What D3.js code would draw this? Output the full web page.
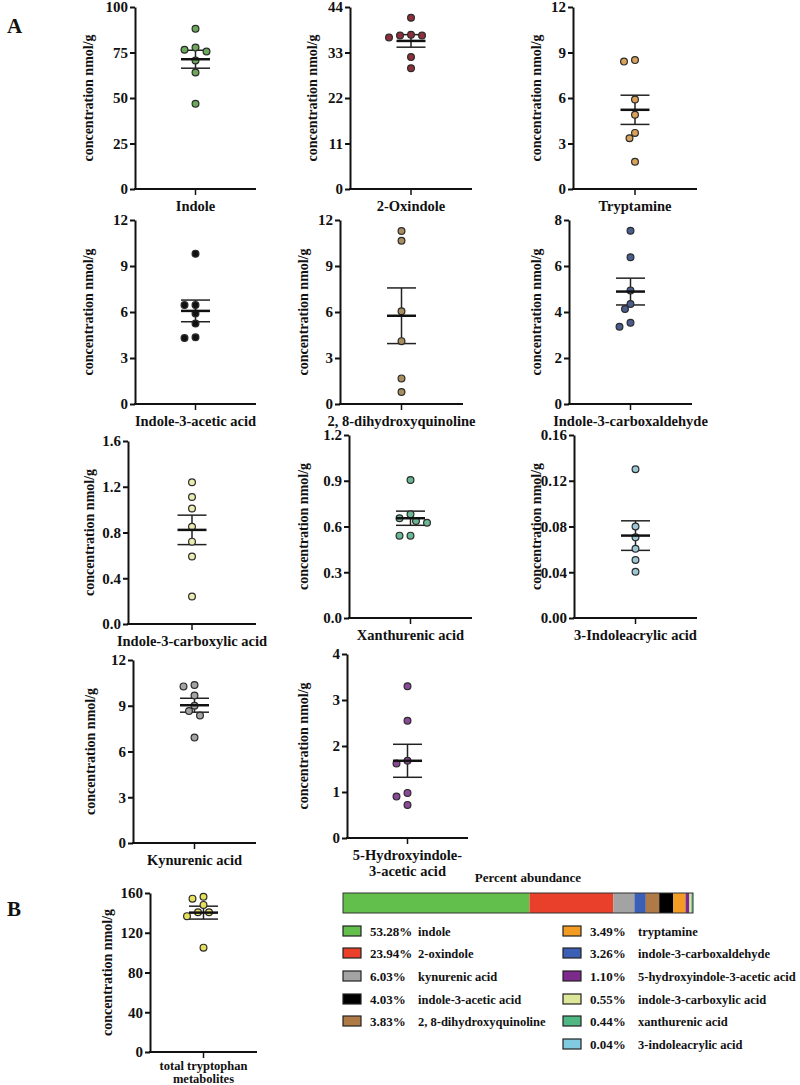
<!DOCTYPE html>
<html><head><meta charset="utf-8">
<script src="https://cdn.jsdelivr.net/npm/d3@7/dist/d3.min.js"></script>
<style>
html,body{margin:0;padding:0;background:#fff;}
svg{display:block;font-family:"Liberation Serif","Times New Roman",serif;font-weight:bold;}
</style></head><body>
<svg id="chart" width="800" height="1085"></svg>
<script>
// ---------- DATA ----------
const categories = ["Indole","2-Oxindole","Tryptamine","Indole-3-acetic acid","2, 8-dihydroxyquinoline","Indole-3-carboxaldehyde","Indole-3-carboxylic acid","Xanthurenic acid","3-Indoleacrylic acid","Kynurenic acid","5-Hydroxyindole-|3-acetic acid"];
const indole = [88, 77.7, 76.5, 75.5, 70.6, 64, 46.8];
const oxindole = [41.4, 37.1, 37.3, 36.6, 37.1, 31.9, 29.2];
const tryptamine = [8.5, 8.4, 5.9, 4.9, 3.7, 3.35, 1.8];
const iaa = [9.8, 6.45, 6.45, 5.9, 5.25, 4.3, 4.35];
const dhq = [11.28, 10.65, 6.05, 4.1, 1.67, 0.78];
const i3ald = [7.53, 6.38, 4.94, 4.35, 4.13, 3.53, 3.36];
const i3cooh = [1.24, 1.11, 1.01, 0.85, 0.72, 0.59, 0.24];
const xanthurenic = [0.905, 0.68, 0.654, 0.636, 0.625, 0.54, 0.54];
const indoleacrylic = [0.130, 0.080, 0.0705, 0.0606, 0.0507, 0.0405];
const kynurenic = [10.27, 10.36, 9.67, 9.0, 8.66, 8.36, 6.92];
const hiaa = [3.3, 2.55, 1.68, 1.62, 0.98, 0.9, 0.72];
const seriesValues = [indole, oxindole, tryptamine, iaa, dhq, i3ald, i3cooh, xanthurenic, indoleacrylic, kynurenic, hiaa];

const tickValues = [
  [0,25,50,75,100],[0,11,22,33,44],[0,3,6,9,12],
  [0,3,6,9,12],[0,3,6,9,12],[0,2,4,6,8],
  [0,0.4,0.8,1.2,1.6],[0,0.3,0.6,0.9,1.2],[0,0.04,0.08,0.12,0.16],
  [0,3,6,9,12],[0,1,2,3,4]
];
const tickLabels = [
  ["0","25","50","75","100"],["0","11","22","33","44"],["0","3","6","9","12"],
  ["0","3","6","9","12"],["0","3","6","9","12"],["0","2","4","6","8"],
  ["0.0","0.4","0.8","1.2","1.6"],["0.0","0.3","0.6","0.9","1.2"],["0.00","0.04","0.08","0.12","0.16"],
  ["0","3","6","9","12"],["0","1","2","3","4"]
];

const totalCategory = "total tryptophan|metabolites";
const totalValues = [154.3, 156.3, 148, 140.7, 140.7, 136.7, 105];
const totalTicks = [0,40,80,120,160];
const totalTickLabels = ["0","40","80","120","160"];

const abundanceNames = ["indole","2-oxindole","kynurenic acid","indole-3-acetic acid","2, 8-dihydroxyquinoline","tryptamine","indole-3-carboxaldehyde","5-hydroxyindole-3-acetic acid","indole-3-carboxylic acid","xanthurenic acid","3-indoleacrylic acid"];
const abundancePct = [53.28, 23.94, 6.03, 4.03, 3.83, 3.49, 3.26, 1.10, 0.55, 0.44, 0.04];
const barOrder = ["indole","2-oxindole","kynurenic acid","indole-3-carboxaldehyde","2, 8-dihydroxyquinoline","indole-3-acetic acid","tryptamine","5-hydroxyindole-3-acetic acid","indole-3-carboxylic acid","xanthurenic acid","3-indoleacrylic acid"];

// ---------- STYLE / LAYOUT ----------
const pointColors = ["#6aa85a","#8e2f3c","#d9a25c","#111111","#a88d5e","#4b5d8f","#ecebb2","#6ab893","#9dc6d6","#a3a3a3","#8a4898"];
const totalColor = "#e6df5e";
const swatchColors = {"indole":"#62bf4c","2-oxindole":"#e8402b","kynurenic acid":"#a3a3a3","indole-3-acetic acid":"#000000","2, 8-dihydroxyquinoline":"#b07a47","tryptamine":"#f29c24","indole-3-carboxaldehyde":"#3b5fb4","5-hydroxyindole-3-acetic acid":"#7d2a8c","indole-3-carboxylic acid":"#dde79a","xanthurenic acid":"#4fb784","3-indoleacrylic acid":"#80cbe0"};

const layout = [
  {x:135, top:7,   h:182, w:121, tx:88},
  {x:350, top:7,   h:182, w:122, tx:312},
  {x:573, top:7,   h:182, w:124, tx:536},
  {x:135, top:220, h:184, w:121, tx:88},
  {x:340, top:220, h:184, w:123, tx:303},
  {x:569, top:220, h:184, w:123, tx:536},
  {x:128, top:441, h:183, w:128, tx:89},
  {x:349, top:435, h:183, w:123, tx:303},
  {x:574, top:435, h:183, w:123, tx:536},
  {x:133, top:660, h:183, w:123, tx:90},
  {x:347, top:654, h:184, w:121, tx:303}
];

const svg = d3.select("#chart");

function beeswarm(ys, r, step){
  const placed = [];
  const order = ys.map((y,i)=>({y,i})).sort((a,b)=>a.y-b.y);
  const out = new Array(ys.length);
  const minD = 2*r + 0.6;
  order.forEach(p=>{
    const cands=[0];
    for(let k=1;k<8;k++){cands.push(-k*step, k*step);}
    for(const dx of cands){
      if(placed.every(q=>Math.hypot(q.x-dx,q.y-p.y)>=minD)){
        placed.push({x:dx,y:p.y}); out[p.i]=dx; break;
      }
    }
  });
  return out;
}

function panel(opt){
  const {x, top, w, tx, values, ticks, labels, category, color, h, labFont, labY, labDy} = opt;
  const bottom = top + h;
  const g = svg.append("g");
  const y = d3.scaleLinear().domain([0, ticks[ticks.length-1]]).range([bottom, top]);
  const xs = d3.scaleBand().domain([category]).range([x, x+w]);
  const cx = xs(category) + xs.bandwidth()/2;

  const ya = d3.axisLeft(y).tickValues(ticks).tickFormat((d,i)=>labels[i]).tickSize(5).tickSizeOuter(0).tickPadding(2);
  const yg = g.append("g").attr("transform",`translate(${x},0)`).call(ya);
  yg.select(".domain").attr("stroke","#111").attr("stroke-width",2);
  yg.selectAll(".tick line").attr("stroke","#111").attr("stroke-width",2);
  yg.selectAll("text").attr("fill","#111").style("font-size","15px").style("font-family","'Liberation Serif'").style("font-weight","bold");

  const xa = d3.axisBottom(xs).tickSize(6).tickSizeOuter(0).tickFormat("");
  const xg = g.append("g").attr("transform",`translate(0,${bottom})`).call(xa);
  xg.select(".domain").attr("stroke","#111").attr("stroke-width",2).attr("d",`M${x-1},0H${x+w}`);
  xg.selectAll(".tick line").attr("stroke","#111").attr("stroke-width",1.5);

  // category label (may be 2 lines)
  const parts = category.split("|");
  const lab = g.append("text").attr("x",cx).attr("y",bottom+(labY||22)).attr("text-anchor","middle")
    .style("font-size",(labFont||14.5)+"px").attr("fill","#111");
  parts.forEach((p,i)=>lab.append("tspan").attr("x",cx).attr("dy", i===0?0:(labDy||16)).text(p));

  // y title
  g.append("text").attr("transform",`translate(${tx},${(top+bottom)/2}) rotate(-90)`)
    .attr("text-anchor","middle").attr("dy","0.35em").style("font-size","14px").attr("fill","#111")
    .text("concentration nmol/g");

  // stats
  const mean = d3.mean(values);
  const sem = d3.deviation(values)/Math.sqrt(values.length);
  const hw = 14.5;
  g.append("line").attr("x1",cx).attr("x2",cx).attr("y1",y(mean+sem)).attr("y2",y(mean-sem)).attr("stroke","#222").attr("stroke-width",1.5);
  g.append("line").attr("x1",cx-hw).attr("x2",cx+hw).attr("y1",y(mean+sem)).attr("y2",y(mean+sem)).attr("stroke","#222").attr("stroke-width",1.5);
  g.append("line").attr("x1",cx-hw).attr("x2",cx+hw).attr("y1",y(mean-sem)).attr("y2",y(mean-sem)).attr("stroke","#222").attr("stroke-width",1.5);

  const r = 3.4;
  const ys = values.map(v=>y(v));
  const dxs = beeswarm(ys, r, 5.5);
  g.selectAll("circle.pt").data(values).enter().append("circle").attr("class","pt")
    .attr("cx",(d,i)=>cx+dxs[i]).attr("cy",d=>y(d)).attr("r",r)
    .attr("fill",color).attr("stroke","#2a2a2a").attr("stroke-width",1.2);

  g.append("line").attr("x1",cx-hw).attr("x2",cx+hw).attr("y1",y(mean)).attr("y2",y(mean)).attr("stroke","#111").attr("stroke-width",2.5);
}

seriesValues.forEach((vals,i)=>{
  const L = layout[i];
  panel({x:L.x, top:L.top, w:L.w, tx:L.tx, h:L.h, values:vals, ticks:tickValues[i], labels:tickLabels[i], category:categories[i], color:pointColors[i]});
});

panel({x:150, top:893, w:107, tx:107, h:159, values:totalValues, ticks:totalTicks, labels:totalTickLabels, category:totalCategory, color:totalColor, labFont:12.5, labY:18, labDy:13});

// panel letters
svg.append("text").attr("x",7).attr("y",33).style("font-size","21px").attr("fill","#111").text("A");
svg.append("text").attr("x",7).attr("y",916).style("font-size","21px").attr("fill","#111").text("B");

// ---------- Percent abundance bar ----------
const pctOf = name => abundancePct[abundanceNames.indexOf(name)];
const barX = d3.scaleLinear().domain([0, d3.sum(abundancePct)]).range([343, 693]);
let acc = 0;
const segs = barOrder.map(n=>{const s={name:n,x0:acc,x1:acc+pctOf(n)}; acc+=pctOf(n); return s;});
svg.append("text").attr("x",528).attr("y",882).attr("text-anchor","middle").style("font-size","13px").attr("fill","#111").text("Percent abundance");
svg.selectAll("rect.seg").data(segs).enter().append("rect").attr("class","seg")
  .attr("x",d=>barX(d.x0)).attr("width",d=>barX(d.x1)-barX(d.x0)).attr("y",893).attr("height",20)
  .attr("fill",d=>swatchColors[d.name]);
svg.append("rect").attr("x",343).attr("y",893).attr("width",350).attr("height",20).attr("fill","none").attr("stroke","#333").attr("stroke-width",1);

// legend
const rowY = [931, 953, 976, 999, 1021, 1044];
abundanceNames.forEach((n,i)=>{
  const col = i<5?0:1;
  const row = i<5?i:i-5;
  const sx = col===0?343:563, px = col===0?370:590, nx = col===0?418:638;
  const cy = rowY[row];
  svg.append("rect").attr("x",sx).attr("y",cy-5).attr("width",18).attr("height",10).attr("fill",swatchColors[n]).attr("stroke","#222").attr("stroke-width",1.2);
  svg.append("text").attr("x",px).attr("y",cy+4.5).style("font-size","13px").attr("fill","#111").text(abundancePct[i].toFixed(2)+"%");
  svg.append("text").attr("x",nx).attr("y",cy+4.5).style("font-size","12.5px").attr("fill","#111").text(n);
});
</script>
</body></html>
